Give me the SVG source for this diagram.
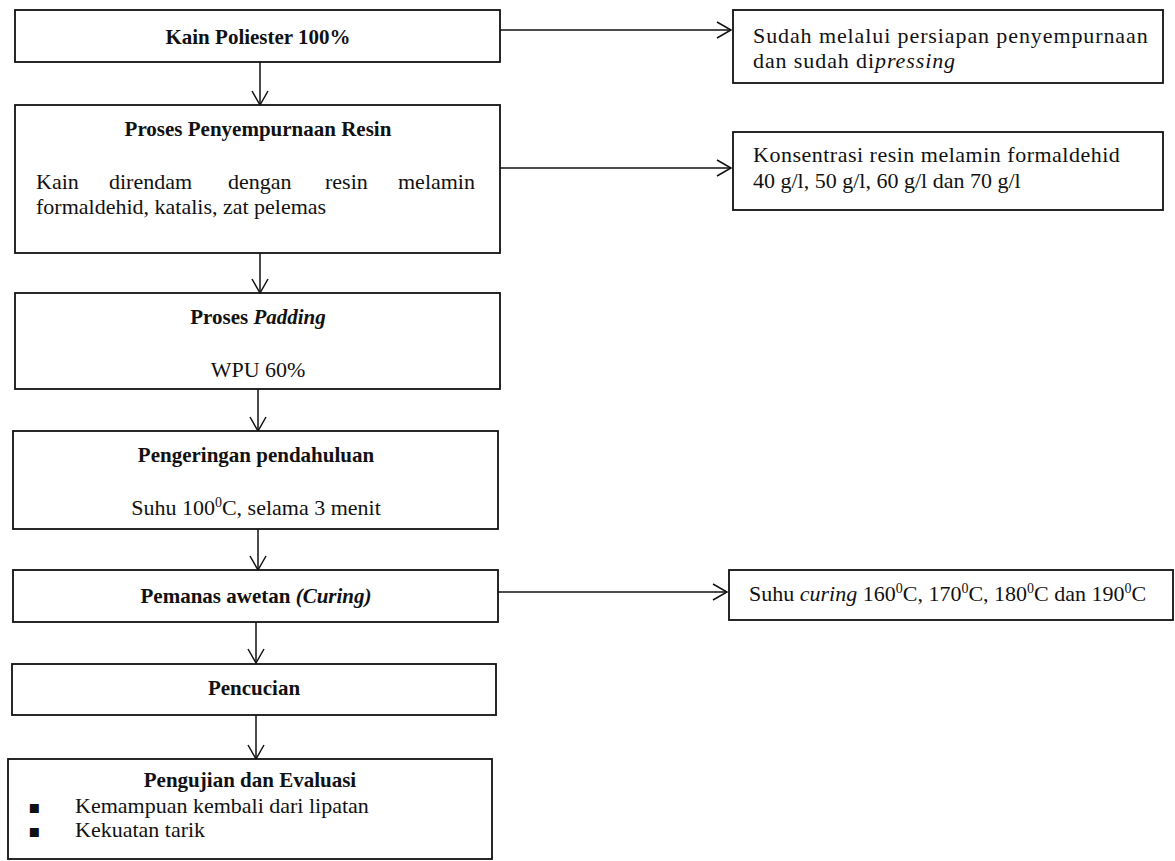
<svg xmlns="http://www.w3.org/2000/svg" width="1175" height="861" viewBox="0 0 1175 861">
<style>
.box{fill:#fff;stroke:#111;stroke-width:1.8}
.t{font-family:"Liberation Serif","Times New Roman",serif;font-size:22px;fill:#111}
.b{font-family:"Liberation Serif","Times New Roman",serif;font-size:21px;font-weight:bold;fill:#111}
.c{text-anchor:middle}
.i{font-style:italic}
.w{letter-spacing:0.5px}
.w2{letter-spacing:0.9px}
.conn{fill:none;stroke:#111;stroke-width:1.5}
.bul{font-family:"DejaVu Sans",sans-serif;font-size:18px;fill:#111}
</style>
<defs>
<marker id="ah" markerUnits="userSpaceOnUse" markerWidth="18" markerHeight="20" refX="15" refY="9" orient="auto" viewBox="0 0 18 18">
<path d="M1,1 L15,9 L1,17" fill="none" stroke="#111" stroke-width="1.5"/>
</marker>
</defs>
<rect width="1175" height="861" fill="#fff"/>
<g id="connectors">
<line class="conn" x1="260" y1="62" x2="260" y2="105" marker-end="url(#ah)"/>
<line class="conn" x1="260" y1="253" x2="260" y2="293" marker-end="url(#ah)"/>
<line class="conn" x1="258" y1="389" x2="258" y2="431" marker-end="url(#ah)"/>
<line class="conn" x1="258" y1="529" x2="258" y2="570" marker-end="url(#ah)"/>
<line class="conn" x1="256" y1="622" x2="256" y2="663" marker-end="url(#ah)"/>
<line class="conn" x1="256" y1="715" x2="256" y2="759" marker-end="url(#ah)"/>
<line class="conn" x1="500" y1="30" x2="731" y2="30" marker-end="url(#ah)"/>
<line class="conn" x1="500" y1="168" x2="731" y2="168" marker-end="url(#ah)"/>
<line class="conn" x1="498" y1="592" x2="727" y2="592" marker-end="url(#ah)"/>
</g>
<g id="n1">
<rect class="box" x="15" y="10" width="485" height="52"/>
<text class="b c" x="258" y="44">Kain Poliester 100%</text>
</g>
<g id="r1">
<rect class="box" x="733" y="10" width="430" height="73"/>
<text class="t w2" x="753" y="43">Sudah melalui persiapan penyempurnaan</text>
<text class="t w2" x="753" y="68">dan sudah di<tspan class="i">pressing</tspan></text>
</g>
<g id="n2">
<rect class="box" x="15" y="105" width="485" height="148"/>
<text class="b c" x="258" y="136">Proses Penyempurnaan Resin</text>
<text class="t" y="189"><tspan x="36">Kain</tspan><tspan x="109">direndam</tspan><tspan x="228">dengan</tspan><tspan x="325">resin</tspan><tspan x="398">melamin</tspan></text>
<text class="t" x="36" y="214">formaldehid, katalis, zat pelemas</text>
</g>
<g id="r2">
<rect class="box" x="733" y="132" width="430" height="78"/>
<text class="t w" x="753" y="162">Konsentrasi resin melamin formaldehid</text>
<text class="t" x="753" y="188">40 g/l, 50 g/l, 60 g/l dan 70 g/l</text>
</g>
<g id="n3">
<rect class="box" x="15" y="293" width="485" height="96"/>
<text class="b c" x="258" y="324">Proses <tspan class="i">Padding</tspan></text>
<text class="t c" x="258" y="377">WPU 60%</text>
</g>
<g id="n4">
<rect class="box" x="13" y="431" width="485" height="98"/>
<text class="b c" x="256" y="462">Pengeringan pendahuluan</text>
<text class="t c" x="256" y="515">Suhu 100<tspan font-size="14" dy="-8">0</tspan><tspan dy="8">C, selama 3 menit</tspan></text>
</g>
<g id="n5">
<rect class="box" x="13" y="570" width="485" height="52"/>
<text class="b c" x="256" y="603">Pemanas awetan <tspan class="i">(Curing)</tspan></text>
</g>
<g id="r3">
<rect class="box" x="729" y="570" width="444" height="50"/>
<text class="t" x="749" y="601">Suhu <tspan class="i">curing</tspan> 160<tspan font-size="14" dy="-8">0</tspan><tspan dy="8">C, 170</tspan><tspan font-size="14" dy="-8">0</tspan><tspan dy="8">C, 180</tspan><tspan font-size="14" dy="-8">0</tspan><tspan dy="8">C dan 190</tspan><tspan font-size="14" dy="-8">0</tspan><tspan dy="8">C</tspan></text>
</g>
<g id="n6">
<rect class="box" x="12" y="664" width="484" height="51"/>
<text class="b c" x="254" y="695">Pencucian</text>
</g>
<g id="n7">
<rect class="box" x="8" y="759" width="484" height="100"/>
<text class="b c" x="250" y="787">Pengujian dan Evaluasi</text>
<text class="bul" x="28" y="813">▪</text>
<text class="t" x="75" y="813">Kemampuan kembali dari lipatan</text>
<text class="bul" x="28" y="837">▪</text>
<text class="t" x="75" y="837">Kekuatan tarik</text>
</g>
</svg>
